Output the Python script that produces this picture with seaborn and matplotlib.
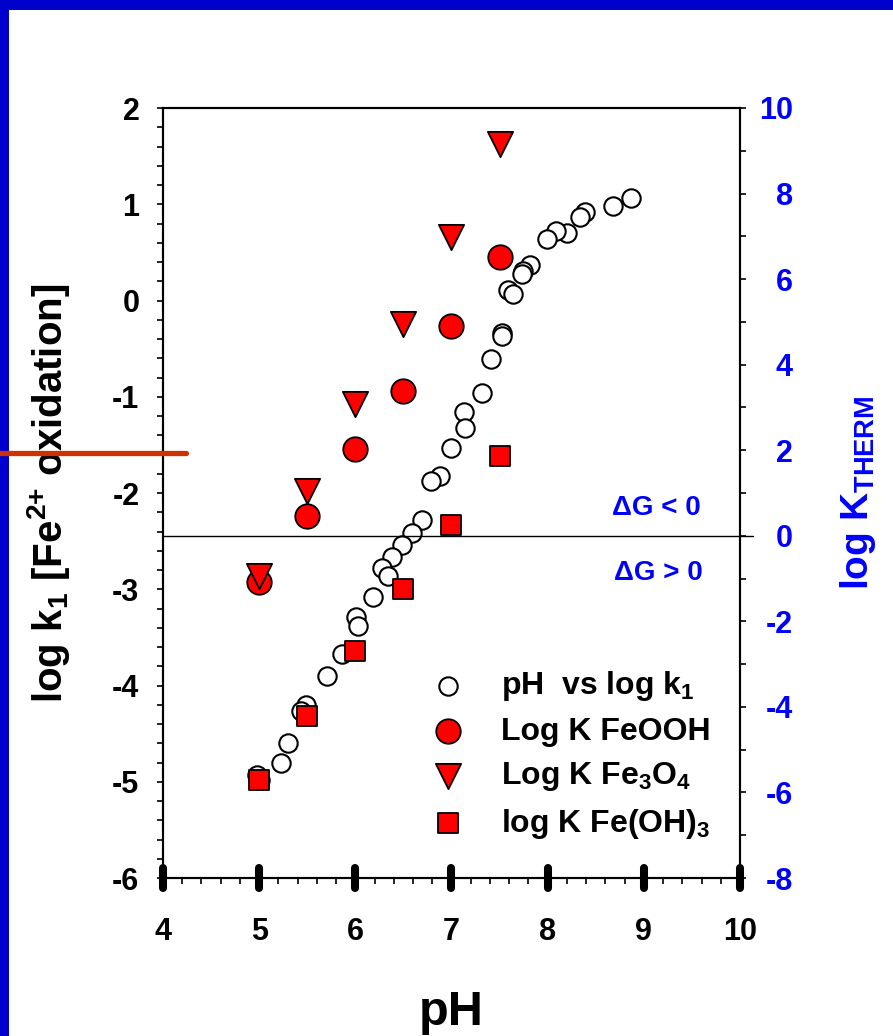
import numpy as np
import pandas as pd
import matplotlib
matplotlib.use("Agg")
import matplotlib.pyplot as plt
import seaborn as sns
from matplotlib.markers import MarkerStyle
from matplotlib.patches import Rectangle
from matplotlib.lines import Line2D

# ---------------- data ----------------
ph_obs = [8.87, 8.68, 8.39, 8.34, 8.20, 8.09, 7.99, 7.82, 7.74, 7.73, 7.59, 7.64,
          7.52, 7.52, 7.41, 7.32, 7.13, 7.14, 7.00, 6.88, 6.79, 6.69, 6.59, 6.49,
          6.38, 6.28, 6.34, 6.18, 6.01, 6.03, 5.86, 5.71, 5.49, 5.44, 5.30, 5.23,
          4.98, 5.01]
logk1_obs = [1.07, 0.98, 0.92, 0.87, 0.70, 0.72, 0.64, 0.37, 0.31, 0.28, 0.11, 0.07,
             -0.34, -0.37, -0.61, -0.96, -1.16, -1.32, -1.53, -1.82, -1.88, -2.28, -2.42, -2.54,
             -2.66, -2.78, -2.86, -3.08, -3.29, -3.38, -3.67, -3.90, -4.20, -4.27, -4.60, -4.80,
             -4.93, -4.98]

ph_k = [5.0, 5.5, 6.0, 6.5, 7.0, 7.5]
logK_feooh = [-1.08, 0.46, 2.02, 3.39, 4.91, 6.52]
logK_fe3o4 = [-0.94, 1.05, 3.07, 4.96, 6.98, 9.16]
logK_feoh3 = [-5.71, -4.21, -2.69, -1.25, 0.25, 1.87]

labels = ["pH  vs log k$_1$", "Log K FeOOH", "Log K Fe$_3$O$_4$", "log K Fe(OH)$_3$"]
x_ticks = [4, 5, 6, 7, 8, 9, 10]
yl_ticks = [-6, -5, -4, -3, -2, -1, 0, 1, 2]
yr_ticks = [-8, -6, -4, -2, 0, 2, 4, 6, 8, 10]

# ---------------- style ----------------
sns.set_style("ticks")
plt.rcParams["font.family"] = ["Liberation Sans", "DejaVu Sans"]
plt.rcParams["font.weight"] = "bold"
plt.rcParams["text.color"] = "black"
plt.rcParams["axes.labelcolor"] = "black"
plt.rcParams["xtick.color"] = "black"
plt.rcParams["ytick.color"] = "black"
plt.rcParams["axes.edgecolor"] = "black"
plt.rcParams["axes.unicode_minus"] = False
plt.rcParams["mathtext.fontset"] = "custom"
plt.rcParams["mathtext.rm"] = "Liberation Sans:bold"
plt.rcParams["mathtext.it"] = "Liberation Sans:bold"
plt.rcParams["mathtext.bf"] = "Liberation Sans:bold"
plt.rcParams["mathtext.sf"] = "Liberation Sans:bold"

BLUE = "#0000FF"
RED = "#FF0000"

fig = plt.figure(figsize=(8.93, 10.36), dpi=100)
fig.patch.set_facecolor("white")
ax = fig.add_axes([163 / 893, 1 - 878 / 1036, 577 / 893, 770 / 1036])
ax2 = ax.twinx()

df_obs = pd.DataFrame({"pH": ph_obs, "logk1": logk1_obs})
df_k = pd.DataFrame({"pH": ph_k, "feooh": logK_feooh, "fe3o4": logK_fe3o4, "feoh3": logK_feoh3})

sns.scatterplot(data=df_obs, x="pH", y="logk1", ax=ax, marker="o", s=175,
                facecolor="white", edgecolor="black", linewidth=1.5, label=labels[0], zorder=3)
sns.scatterplot(data=df_k, x="pH", y="feooh", ax=ax2, marker="o", s=310,
                color=RED, edgecolor="black", linewidth=1.3, label=labels[1], zorder=4)
sns.scatterplot(data=df_k, x="pH", y="fe3o4", ax=ax2, marker="v", s=330,
                color=RED, edgecolor="black", linewidth=1.3, label=labels[2], zorder=4)
sns.scatterplot(data=df_k, x="pH", y="feoh3", ax=ax2, marker="s", s=225,
                color=RED, edgecolor="black", linewidth=1.3, label=labels[3], zorder=4)

ax2.axhline(0, xmin=0, xmax=1.022, color="black", lw=1.0, clip_on=False, zorder=2)

ax.set_xlim(4, 10)
ax.set_ylim(-6, 2)
ax2.set_ylim(-8, 10)

ax.set_xticks(x_ticks)
ax.set_xticklabels([str(v) for v in x_ticks])
ax.set_xticks(np.arange(4, 10.01, 0.2), minor=True)
ax.set_yticks(yl_ticks)
ax.set_yticklabels([str(v) for v in yl_ticks])
ax.set_yticks(np.arange(-6, 2.01, 0.2), minor=True)
ax2.set_yticks(yr_ticks)
ax2.set_yticklabels([str(v) for v in yr_ticks])
ax2.set_yticks(np.arange(-8, 10.01, 1), minor=True)

for a in (ax, ax2):
    for s in a.spines.values():
        s.set_linewidth(1.5)
        s.set_color("black")

ax.tick_params(axis="x", which="major", direction="inout", length=14, width=5.8,
               labelsize=22, pad=21, color="black", labelcolor="black")
ax.tick_params(axis="x", which="minor", direction="out", length=4.5, width=1.2, color="black")
ax.tick_params(axis="y", which="both", direction="out", length=4, width=1.2, color="black")
ax.tick_params(axis="y", which="major", labelsize=22, pad=13, labelcolor="black")
ax.tick_params(top=False, which="both")
ax2.tick_params(axis="y", which="both", direction="out", length=4, width=1.2, color="black")
ax2.tick_params(axis="y", which="major", labelsize=22, pad=34, labelcolor=BLUE)
for lab in ax2.get_yticklabels():
    lab.set_horizontalalignment("right")
    lab.set_fontweight("bold")
for lab in ax.get_xticklabels() + ax.get_yticklabels():
    lab.set_fontweight("bold")

for t in ax.xaxis.get_major_ticks():
    t.tick1line.set_marker(MarkerStyle("|", capstyle="round"))

ax.set_xlabel("pH", fontsize=35, fontweight="bold", color="black")
ax.xaxis.set_label_coords(0.5, -0.145)
ax.set_ylabel("log k$_1$ [Fe$^{2{+}}$ oxidation]", fontsize=29, fontweight="bold", color="black")
ax.yaxis.set_label_coords(-0.158, 0.5)
ax2.set_ylabel("log K$_{\\mathrm{THERM}}$", fontsize=28, fontweight="bold", color=BLUE)
ax2.yaxis.set_label_coords(1.17, 0.5)

ax2.text(0.855, 0.48, "\u0394G < 0", transform=ax.transAxes, fontsize=20,
         fontweight="bold", color=BLUE, ha="center", va="center")
ax2.text(0.858, 0.396, "\u0394G > 0", transform=ax.transAxes, fontsize=20,
         fontweight="bold", color=BLUE, ha="center", va="center")

# legend
h1, l1 = ax.get_legend_handles_labels()
h2, l2 = ax2.get_legend_handles_labels()
if ax.get_legend() is not None:
    ax.get_legend().remove()
leg = ax2.legend(h1 + h2, l1 + l2, loc="upper left", bbox_to_anchor=(0.4, 0.3),
                 frameon=False, labelspacing=0.42, handletextpad=0.65,
                 borderpad=0.2, prop={"weight": "bold", "size": 23})
for txt in leg.get_texts():
    txt.set_color("black")

# slide decorations
fig.add_artist(Rectangle((0, 1 - 10 / 1036), 1, 10 / 1036, transform=fig.transFigure,
                         facecolor="#0000CC", edgecolor="none", zorder=10))
fig.add_artist(Rectangle((0, 0), 9 / 893, 1, transform=fig.transFigure,
                         facecolor="#0000CC", edgecolor="none", zorder=10))
fig.add_artist(Line2D([0, 186 / 893], [1 - 453 / 1036, 1 - 453 / 1036], transform=fig.transFigure,
                      color="#CC3300", lw=3.8, zorder=11))

fig.savefig("out.png", dpi=100)
